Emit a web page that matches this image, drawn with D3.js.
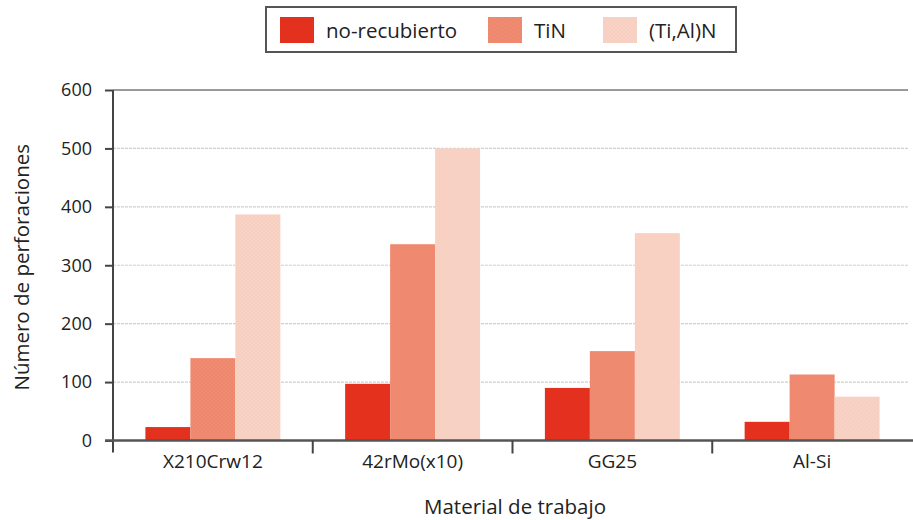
<!DOCTYPE html>
<html>
<head>
<meta charset="utf-8">
<script src="https://cdn.jsdelivr.net/npm/d3@7/dist/d3.min.js"></script>
<style>
  html, body { margin: 0; padding: 0; background: #fff; }
  svg { display: block; font-family: "Open Sans", "DejaVu Sans", sans-serif; }
</style>
</head>
<body>
<svg id="chart" width="913" height="520"></svg>
<script>
// Materiales ensayados (eje X)
const categories = ["X210Crw12", "42rMo(x10)", "GG25", "Al-Si"];
// Recubrimientos (series)
const seriesNames = ["no-recubierto", "TiN", "(Ti,Al)N"];
// Número de perforaciones por material y recubrimiento
const noRecubierto = [23, 97, 90, 32];
const tin = [141, 336, 153, 113];
const tiAlN = [387, 500, 355, 75];
// Marcas del eje Y
const yTicks = [0, 100, 200, 300, 400, 500, 600];

const seriesValues = [noRecubierto, tin, tiAlN];
const colors = ["#e5321f", "#ef8b70", "#f8d3c5"];
const dotColors = ["#d82a18", "#e8806a", "#f2c2b2"];

const svg = d3.select("#chart");
const margin = { left: 113, right: 1, top: 90, bottom: 79.5 };
const W = 913, H = 520;

const x = d3.scaleBand().domain(categories)
  .range([margin.left, W - margin.right]).paddingInner(0).paddingOuter(0);
const x1 = d3.scaleBand().domain(seriesNames)
  .range([0, x.bandwidth()]).paddingInner(0).paddingOuter(0.72);
const y = d3.scaleLinear().domain([0, 600]).range([H - margin.bottom, margin.top]);

// Texturas de trama para las barras
const defs = svg.append("defs");
seriesNames.forEach((s, i) => {
  const p = defs.append("pattern").attr("id", "pat" + i)
    .attr("patternUnits", "userSpaceOnUse").attr("width", 4).attr("height", 4);
  p.append("rect").attr("width", 4).attr("height", 4).attr("fill", colors[i]);
  p.append("circle").attr("cx", 1).attr("cy", 1).attr("r", 0.8).attr("fill", dotColors[i]).attr("opacity", 0.6);
  p.append("circle").attr("cx", 3).attr("cy", 3).attr("r", 0.8).attr("fill", dotColors[i]).attr("opacity", 0.6);
});

// Rejilla horizontal
const grid = svg.append("g");
grid.selectAll("line").data(yTicks.filter(t => t > 0 && t < 600)).join("line")
  .attr("x1", margin.left).attr("x2", W - 5)
  .attr("y1", d => y(d)).attr("y2", d => y(d))
  .attr("stroke", "#cfcfcf").attr("stroke-width", 1.2)
  .attr("stroke-dasharray", "3,1");
grid.append("line")
  .attr("x1", margin.left).attr("x2", W - 5)
  .attr("y1", y(600)).attr("y2", y(600))
  .attr("stroke", "#9a9a9a").attr("stroke-width", 2);

// Barras
const groups = svg.append("g").selectAll("g").data(categories).join("g")
  .attr("transform", d => `translate(${x(d)},0)`);
groups.selectAll("rect")
  .data((c, ci) => seriesNames.map((s, si) => ({ s, si, v: seriesValues[si][ci] })))
  .join("rect")
  .attr("x", d => x1(d.s))
  .attr("width", x1.bandwidth())
  .attr("y", d => y(d.v))
  .attr("height", d => y(0) - y(d.v))
  .attr("fill", d => `url(#pat${d.si})`);

// Eje Y
const yAxis = svg.append("g").attr("transform", `translate(${margin.left},0)`)
  .call(d3.axisLeft(y).tickValues(yTicks).tickSize(8).tickPadding(13));
yAxis.select(".domain").attr("stroke", "#444").attr("stroke-width", 2)
  .attr("d", `M0,${y(600)}V${y(0) + 12}`);
yAxis.selectAll(".tick line").attr("stroke", "#444").attr("stroke-width", 2);
yAxis.selectAll(".tick text").attr("fill", "#222").style("font-size", "18px")
  .style("font-family", "'Open Sans', sans-serif");

// Eje X
const xAxis = svg.append("g").attr("transform", `translate(0,${y(0)})`)
  .call(d3.axisBottom(x).tickSize(0).tickPadding(14));
xAxis.select(".domain").attr("stroke", "#555").attr("stroke-width", 2.5)
  .attr("d", `M${margin.left - 8},0H${W}`);
xAxis.selectAll(".tick text").attr("fill", "#222").style("font-size", "19px")
  .style("font-family", "'Open Sans', sans-serif");
// Separadores entre grupos
xAxis.append("g").selectAll("line").data(categories.slice(1)).join("line")
  .attr("x1", d => x(d)).attr("x2", d => x(d))
  .attr("y1", 0).attr("y2", 13)
  .attr("stroke", "#444").attr("stroke-width", 2);

// Títulos de los ejes
svg.append("text")
  .attr("transform", `translate(29,${(y(0) + y(600)) / 2 + 2}) rotate(-90)`)
  .attr("text-anchor", "middle").attr("fill", "#222")
  .style("font-size", "20.5px").text("Número de perforaciones");
svg.append("text")
  .attr("x", 515).attr("y", 514)
  .attr("text-anchor", "middle").attr("fill", "#222")
  .style("font-size", "20.5px").text("Material de trabajo");

// Leyenda
const legend = svg.append("g");
legend.append("rect")
  .attr("x", 266).attr("y", 7).attr("width", 470).attr("height", 45)
  .attr("fill", "#fff").attr("stroke", "#555").attr("stroke-width", 2);
const legendX = [280, 488, 603];
const items = legend.selectAll("g.item").data(seriesNames).join("g").attr("class", "item")
  .attr("transform", (d, i) => `translate(${legendX[i]},17)`);
items.append("rect").attr("width", 34).attr("height", 26)
  .attr("fill", (d, i) => `url(#pat${i})`);
items.append("text").attr("x", 46).attr("y", 21)
  .attr("fill", "#222").style("font-size", "20.5px").text(d => d);
</script>
</body>
</html>
